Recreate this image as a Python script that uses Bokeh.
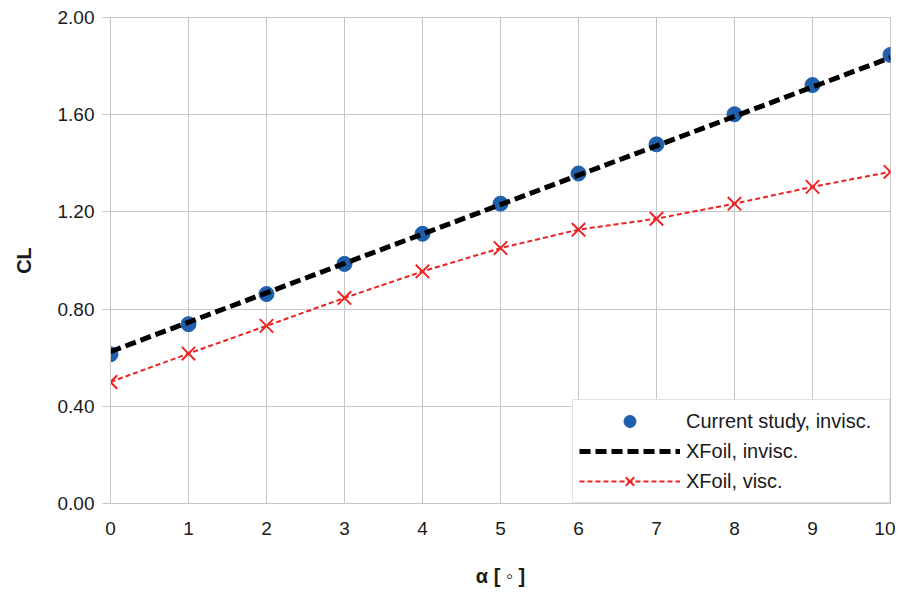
from bokeh.plotting import figure
from bokeh.models import NumeralTickFormatter, FixedTicker
from bokeh.embed import file_html
from bokeh.resources import INLINE

alpha = [0, 1, 2, 3, 4, 5, 6, 7, 8, 9, 10]
cl_current_invisc = [0.614, 0.738, 0.862, 0.986, 1.110, 1.234, 1.358, 1.478, 1.602, 1.722, 1.846]
cl_xfoil_invisc = [0.625, 0.746, 0.867, 0.988, 1.109, 1.230, 1.351, 1.472, 1.593, 1.714, 1.835]
cl_xfoil_visc = [0.500, 0.617, 0.731, 0.846, 0.955, 1.051, 1.127, 1.172, 1.234, 1.303, 1.365]
x_ticks = [0, 1, 2, 3, 4, 5, 6, 7, 8, 9, 10]
y_ticks = [0.0, 0.4, 0.8, 1.2, 1.6, 2.0]

FONT = "Liberation Sans"
GRID = "#c6c6c6"

p = figure(width=895, height=589, output_backend="svg", toolbar_location=None,
           x_range=(0, 10), y_range=(0, 2.0),
           min_border_left=110, min_border_right=5, min_border_top=17, min_border_bottom=85)
p.background_fill_color = "white"
p.border_fill_color = "white"
p.outline_line_color = GRID

# series
p.scatter(alpha, cl_current_invisc, size=15, color="#1f5fab", marker="circle",
          legend_label="Current study, invisc.")
p.line(alpha, cl_xfoil_invisc, line_color="black", line_width=5, line_dash="11 5",
       legend_label="XFoil, invisc.")
p.line(alpha, cl_xfoil_visc, line_color="#ee2222", line_width=2, line_dash="5 3",
       legend_label="XFoil, visc.")
p.scatter(alpha, cl_xfoil_visc, size=19, marker="x", line_color="#ee2222", line_width=2,
          legend_label="XFoil, visc.")

# grids
p.xgrid.grid_line_color = GRID
p.ygrid.grid_line_color = GRID
p.xgrid.ticker = FixedTicker(ticks=x_ticks)
p.ygrid.ticker = FixedTicker(ticks=y_ticks)

# x axis
xa = p.xaxis[0]
xa.ticker = FixedTicker(ticks=x_ticks)
xa.axis_label = "α [ ◦ ]"
xa.axis_line_color = GRID
xa.major_tick_line_color = GRID
xa.major_tick_out = 0
xa.major_tick_in = 0
xa.minor_tick_line_color = None
xa.major_label_text_font = FONT
xa.major_label_text_font_size = "19px"
xa.major_label_text_color = "#1a1a1a"
xa.major_label_standoff = 18
xa.axis_label_text_font = FONT
xa.axis_label_text_font_size = "20px"
xa.axis_label_text_font_style = "bold"
xa.axis_label_text_color = "#1a1a1a"
xa.axis_label_standoff = 27

# y axis
ya = p.yaxis[0]
ya.ticker = FixedTicker(ticks=y_ticks)
ya.formatter = NumeralTickFormatter(format="0.00")
ya.axis_label = "CL"
ya.axis_line_color = GRID
ya.major_tick_line_color = GRID
ya.major_tick_out = 8
ya.major_tick_in = 0
ya.minor_tick_line_color = None
ya.major_label_text_font = FONT
ya.major_label_text_font_size = "19px"
ya.major_label_text_color = "#1a1a1a"
ya.major_label_standoff = 8
ya.axis_label_text_font = FONT
ya.axis_label_text_font_size = "20px"
ya.axis_label_text_font_style = "bold"
ya.axis_label_text_color = "#1a1a1a"
ya.axis_label_standoff = 20

# legend
lg = p.legend[0]
lg.location = "bottom_right"
lg.margin = 0
lg.padding = 6
lg.spacing = 0
lg.glyph_width = 101
lg.glyph_height = 30
lg.label_height = 30
lg.label_width = 197
lg.label_standoff = 6
lg.label_text_font = FONT
lg.label_text_font_size = "20px"
lg.label_text_color = "#1a1a1a"
lg.border_line_color = GRID
lg.border_line_width = 1
lg.background_fill_color = "white"
lg.background_fill_alpha = 1.0

open("out.html", "w").write(file_html(p, INLINE))
